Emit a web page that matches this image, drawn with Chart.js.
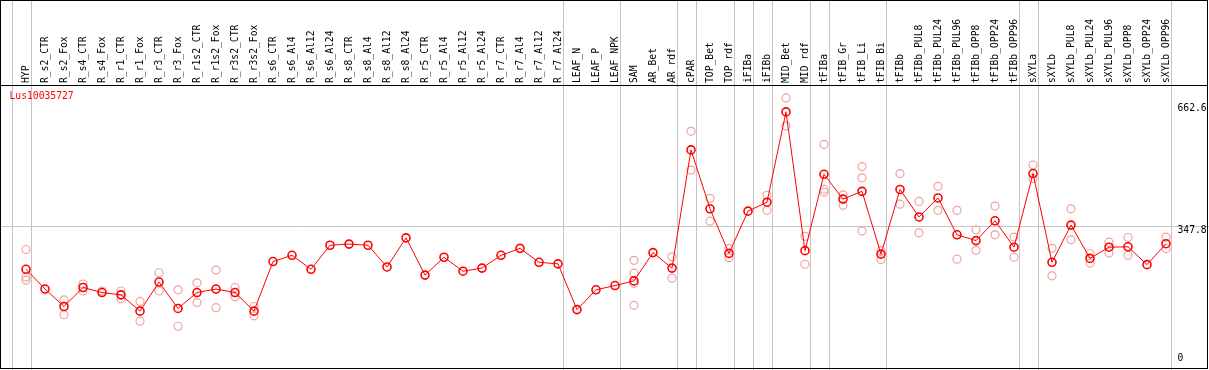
<!DOCTYPE html>
<html>
<head>
<meta charset="utf-8">
<script src="https://cdn.jsdelivr.net/npm/chart.js@4/dist/chart.umd.min.js"></script>
<style>
  html, body { margin: 0; padding: 0; background: #fff; }
  #wrap { width: 1209px; height: 370px; }
</style>
</head>
<body>
<div id="wrap"><canvas id="chart" width="1209" height="370"></canvas></div>
<script>
// sample names (top axis)
const categories = [
  "HYP", "R_s2_CTR", "R_s2_Fox", "R_s4_CTR", "R_s4_Fox", "R_r1_CTR", "R_r1_Fox",
  "R_r3_CTR", "R_r3_Fox", "R_r1s2_CTR", "R_r1s2_Fox", "R_r3s2_CTR", "R_r3s2_Fox",
  "R_s6_CTR", "R_s6_Al4", "R_s6_Al12", "R_s6_Al24", "R_s8_CTR", "R_s8_Al4",
  "R_s8_Al12", "R_s8_Al24", "R_r5_CTR", "R_r5_Al4", "R_r5_Al12", "R_r5_Al24",
  "R_r7_CTR", "R_r7_Al4", "R_r7_Al12", "R_r7_Al24", "LEAF_N", "LEAF_P", "LEAF_NPK",
  "SAM", "AR_Bet", "AR_rdf", "cPAR", "TOP_Bet", "TOP_rdf", "iFIBa", "iFIBb",
  "MID_Bet", "MID_rdf", "tFIBa", "tFIB_Gr", "tFIB_Li", "tFIB_Bi", "tFIBb",
  "tFIBb_PUL8", "tFIBb_PUL24", "tFIBb_PUL96", "tFIBb_OPP8", "tFIBb_OPP24", "tFIBb_OPP96",
  "sXYLa", "sXYLb", "sXYLb_PUL8", "sXYLb_PUL24", "sXYLb_PUL96", "sXYLb_OPP8",
  "sXYLb_OPP24", "sXYLb_OPP96"
];

// mean expression per sample
const meanValues = [
  236, 185, 140, 189, 176, 170, 128, 203, 135, 176, 185, 176, 128,
  256, 272, 236, 298, 301, 298, 242, 317, 221, 267, 231, 239,
  272, 290, 254, 250, 132, 183, 194,
  206, 279, 239, 544, 392, 277, 386, 409,
  642, 284, 481, 417, 437, 275, 442,
  371, 420, 325, 310, 361, 293,
  483, 254, 350, 264, 293, 294, 248, 302
];

// replicate values (null = hidden under the mean)
const rep1 = [
  287, null, 157, 198, 180, 180, 153, 227, 183, 201, 234, 189, 140,
  null, null, null, null, null, null, null, null, null, null, null, null,
  null, null, null, null, null, null, null,
  259, null, 268, 592, 419, 290, null, 427,
  678, 321, 558, 428, 501, 284, 483,
  411, 450, 388, 338, 399, 319,
  505, 290, 392, 276, 306, 318, null, 319
];
const rep2 = [
  216, null, 119, 180, null, 160, 102, 180, 89, 150, 137, 165, 116,
  null, null, null, null, null, null, null, null, null, null, null, null,
  null, null, null, null, null, null, null,
  226, null, 213, 492, 360, 266, null, 388,
  606, 249, 442, 401, 472, 261, 404,
  330, 388, 262, 285, 325, 267,
  470, 219, 312, 252, 278, 272, null, 289
];
const rep3 = [
  208, null, null, null, null, null, null, null, null, null, null, null, null,
  null, null, null, null, null, null, null, null, null, null, null, null,
  null, null, null, null, null, null, null,
  200, null, null, null, null, null, null, null,
  null, null, 435, null, 335, null, null,
  null, null, null, null, null, null,
  null, null, null, null, null, null, null, null
];
const rep4 = [
  null, null, null, null, null, null, null, null, null, null, null, null, null,
  null, null, null, null, null, null, null, null, null, null, null, null,
  null, null, null, null, null, null, null,
  143, null, null, null, null, null, null, null,
  null, null, null, null, null, null, null,
  null, null, null, null, null, null,
  null, null, null, null, null, null, null, null
];

// right axis labels
const yTickValues = [662.6, 347.8, 0];
const yTickLabels = ["662.6", "347.8", "0"];

// grey separators drawn right of these samples
const separatorAfter = [-1, 0, 28, 31, 34, 35, 37, 38, 39, 41, 42, 45, 52, 53, 60];

const geneName = "Lus10035727";
const MONO = "'DejaVu Sans Mono', 'Liberation Mono', monospace";
const GRID_GREY = "#c4c4c4";
const LABEL_SIZE = 9.7;

// draws frame, separators, reference line and right labels
const framePlugin = {
  id: "frame",
  beforeDatasetsDraw(chart) {
    const ctx = chart.ctx;
    const x = chart.scales.x;
    const y = chart.scales.y;
    const step = x.getPixelForValue(1) - x.getPixelForValue(0);
    ctx.save();
    ctx.strokeStyle = GRID_GREY;
    ctx.lineWidth = 1;
    separatorAfter.forEach((i) => {
      const px = Math.round(x.getPixelForValue(i) + step * 0.24) + 0.5;
      ctx.beginPath();
      ctx.moveTo(px, 0);
      ctx.lineTo(px, chart.height);
      ctx.stroke();
    });
    const py = Math.round(y.getPixelForValue(347.8)) + 0.5;
    ctx.beginPath();
    ctx.moveTo(0, py);
    ctx.lineTo(chart.width, py);
    ctx.stroke();
    ctx.restore();
  },
  afterDraw(chart) {
    const ctx = chart.ctx;
    const area = chart.chartArea;
    const y = chart.scales.y;
    ctx.save();
    ctx.font = LABEL_SIZE + "px " + MONO;
    ctx.textAlign = "left";
    ctx.textBaseline = "top";
    ctx.fillStyle = "#000";
    yTickValues.forEach((v, i) => {
      let ty = y.getPixelForValue(v);
      ty = Math.min(ty, area.bottom - 11);
      ctx.fillText(yTickLabels[i], area.right + 2, ty);
    });
    ctx.fillStyle = "#ff0000";
    ctx.fillText(geneName, area.left - 7, area.top + 7);

    ctx.strokeStyle = "#000";
    ctx.lineWidth = 1;
    ctx.strokeRect(0.5, 0.5, chart.width - 2, chart.height - 2);
    ctx.beginPath();
    ctx.moveTo(0, Math.round(area.top) + 0.5);
    ctx.lineTo(chart.width - 1, Math.round(area.top) + 0.5);
    ctx.stroke();
    ctx.restore();
  }
};

function repSet(label, values) {
  return {
    label: label,
    data: values,
    showLine: false,
    pointRadius: 4,
    pointBorderWidth: 1.2,
    pointBorderColor: "#f0a0a0",
    pointBackgroundColor: "rgba(0,0,0,0)",
    borderColor: "#f0a0a0",
  };
}

const ctx = document.getElementById("chart").getContext("2d");
new Chart(ctx, {
  type: "line",
  data: {
    labels: categories,
    datasets: [
      {
        label: "mean",
        data: meanValues,
        borderColor: "#ff0000",
        borderWidth: 1,
        tension: 0,
        pointRadius: 4,
        pointBorderWidth: 1.6,
        pointBorderColor: "#ff0000",
        pointBackgroundColor: "rgba(0,0,0,0)",
      },
      repSet("rep1", rep1),
      repSet("rep2", rep2),
      repSet("rep3", rep3),
      repSet("rep4", rep4),
    ],
  },
  options: {
    responsive: false,
    animation: false,
    layout: { padding: { left: 16.5, right: 33.5, top: 0, bottom: 1 } },
    plugins: {
      legend: { display: false },
      tooltip: { enabled: false },
    },
    scales: {
      x: {
        type: "category",
        position: "top",
        offset: true,
        grid: { display: false, drawTicks: false },
        border: { display: false },
        afterFit: (scale) => { scale.height = 85; },
        ticks: {
          autoSkip: false,
          minRotation: 90,
          maxRotation: 90,
          padding: 2,
          labelOffset: LABEL_SIZE * 1.2,
          color: "#000",
          font: { family: MONO, size: LABEL_SIZE, lineHeight: 1.2 },
        },
      },
      y: {
        display: false,
        min: -9.4,
        max: 711.4,
      },
    },
  },
  plugins: [framePlugin],
});
</script>
</body>
</html>
